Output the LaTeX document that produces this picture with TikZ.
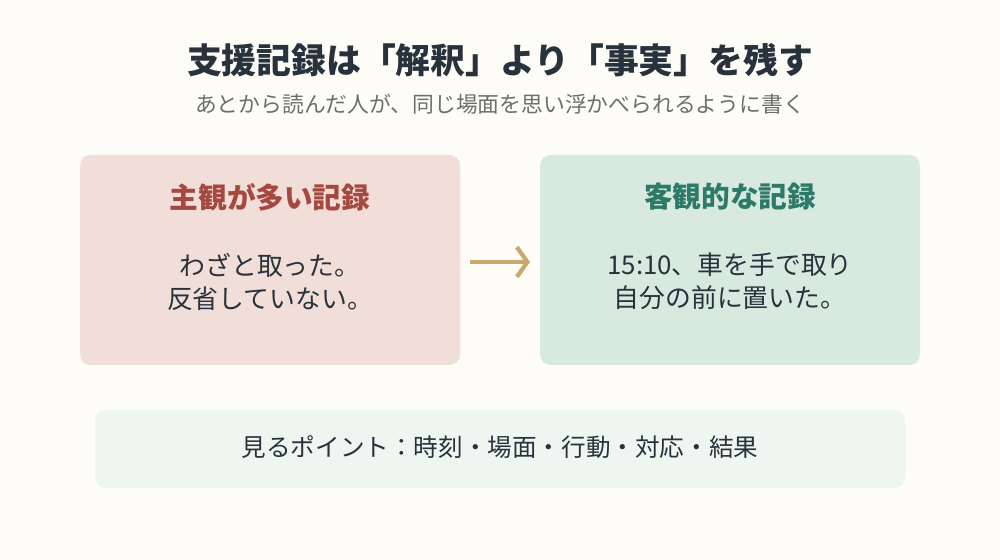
\documentclass[tikz,border=0pt]{standalone}
\usepackage{fontspec}
\setmainfont{Noto Sans CJK JP}
\usetikzlibrary{positioning, arrows.meta}
\definecolor{bgcol}{HTML}{FDFCF7}
\definecolor{inkcol}{HTML}{28323C}
\definecolor{graycol}{HTML}{6E6E6E}
\definecolor{subjfill}{HTML}{F2DED8}
\definecolor{subjink}{HTML}{A5483F}
\definecolor{objfill}{HTML}{D8EAE0}
\definecolor{objink}{HTML}{2E7A6A}
\definecolor{notefill}{HTML}{EDF6F0}
\definecolor{arrowcol}{HTML}{C9A96E}
\begin{document}
\begin{tikzpicture}[
    panel/.style={rounded corners=6pt, draw=none},
    paneltitle/.style={font=\fontsize{16.3}{19}\selectfont\bfseries},
    panelbody/.style={font=\fontsize{14.7}{18.7}\selectfont, text=inkcol, align=center}
  ]
  \fill[bgcol] (0,0) rectangle (20,11.2);
  \useasboundingbox (0,0) rectangle (20,11.2);

  % heading
  \node[text=inkcol, font=\fontsize{19.8}{22}\selectfont\bfseries] (Title) at (10,10.0) {支援記録は「解釈」より「事実」を残す};
  \node[text=graycol, font=\fontsize{12.4}{14}\selectfont] (Subtitle) at (10,9.12) {あとから読んだ人が、同じ場面を思い浮かべられるように書く};

  % two panels
  \fill[panel, subjfill] (1.6,3.9) rectangle (9.2,8.1);
  \fill[panel, objfill] (10.8,3.9) rectangle (18.4,8.1);

  \node[paneltitle, text=subjink] (SubjTitle) at (5.4,7.26) {主観が多い記録};
  \node[panelbody] (SubjBody) at (5.4,5.57) {わざと取った。\\反省していない。};

  \node[paneltitle, text=objink] (ObjTitle) at (14.6,7.26) {客観的な記録};
  \node[panelbody] (ObjBody) at (14.6,5.57) {15:10、車を手で取り\\自分の前に置いた。};

  \coordinate (ArrowStart) at (9.4,5.96);
  \coordinate (ArrowEnd) at (10.6,5.96);
  \draw[arrowcol, line width=2.4pt, -{Straight Barb[length=6pt,width=17pt]}] (ArrowStart) -- (ArrowEnd);

  % note strip
  \fill[panel, notefill] (1.9,1.44) rectangle (18.1,3.0);
  \node[text=inkcol, font=\fontsize{14}{16}\selectfont] (Points) at (10,2.26) {見るポイント：時刻・場面・行動・対応・結果};

\end{tikzpicture}
\end{document}
